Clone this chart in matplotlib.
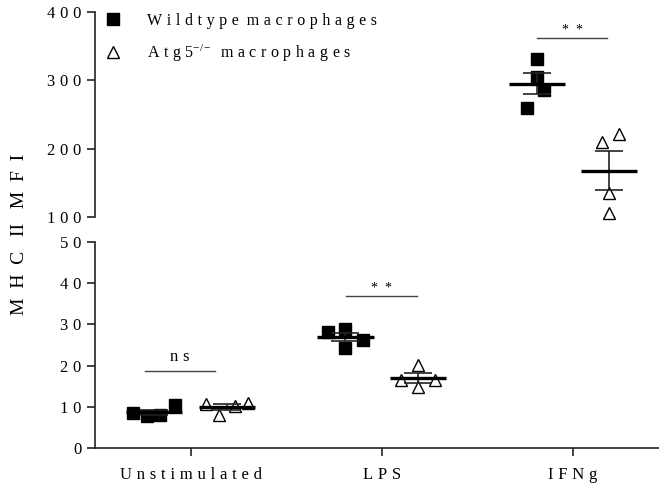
import numpy as np
import matplotlib
matplotlib.use('Agg')
import matplotlib.pyplot as plt
from matplotlib.lines import Line2D

plt.rcParams['font.family'] = ['Liberation Serif', 'DejaVu Serif']
plt.rcParams['mathtext.fontset'] = 'custom'
plt.rcParams['mathtext.rm'] = 'Liberation Serif'
plt.rcParams['mathtext.it'] = 'Liberation Serif:italic'

# MHC II MFI per stimulation, 4 replicates each
categories = ['Unstimulated', 'LPS', 'IFNg']
wt_values = [[8.5, 7.8, 8.0, 10.4],
             [28.2, 28.9, 24.3, 26.2],
             [331, 305, 286, 259]]
ko_values = [[10.6, 7.9, 10.3, 10.9],
             [16.5, 20.1, 14.8, 16.5],
             [210, 221, 135, 106]]
sig_labels = ['ns', '**', '**']
sig_y = [18.7, 36.9, 362]

# horizontal placement of the dots (scatter-dot style)
wt_jitter = [[-0.30, -0.23, -0.16, -0.08],
             [-0.28, -0.19, -0.19, -0.10],
             [-0.19, -0.19, -0.15, -0.24]]
ko_jitter = [[0.08, 0.15, 0.23, 0.30],
             [0.10, 0.19, 0.19, 0.28],
             [0.15, 0.24, 0.19, 0.19]]
group_offset = 0.19
sig_span = [(-0.24, 0.125), (-0.185, 0.185), (-0.19, 0.18)]

FS = 12
GAP = '\u2009\u200a'
BREAK = 50  # values above this go on the upper panel


def spaced(s, gap=GAP):
    return gap.join(s)


fig = plt.figure(figsize=(6.59, 4.86), dpi=100)
ax_bot = fig.add_axes([0.1442, 0.0782, 0.8558, 0.4239])
ax_top = fig.add_axes([0.1442, 0.5535, 0.8558, 0.4218])


def panel(v):
    return ax_top if v > BREAK else ax_bot


x = np.arange(len(categories))

for i in range(len(categories)):
    for vals, jit, off, marker, face in (
            (wt_values[i], wt_jitter[i], -group_offset, 's', 'black'),
            (ko_values[i], ko_jitter[i], group_offset, '^', 'white')):
        vals = np.asarray(vals, dtype=float)
        for v, j in zip(vals, jit):
            panel(v).plot(x[i] + j, v, linestyle='none', marker=marker, ms=9,
                          mfc=face, mec='black', mew=1.0, zorder=2, clip_on=False)
        mean = vals.mean()
        sem = vals.std(ddof=1) / np.sqrt(len(vals))
        cx = x[i] + off
        ax = panel(mean)
        ax.errorbar(cx, mean, yerr=sem, fmt='none', ecolor='#222222',
                    elinewidth=1.2, capsize=10, capthick=1.2, zorder=3)
        ax.hlines(mean, cx - 0.147, cx + 0.147, colors='black', lw=2.4, zorder=4)

for ax in (ax_top, ax_bot):
    ax.set_xlim(-0.5, 2.45)
    for side in ('top', 'right'):
        ax.spines[side].set_visible(False)
    for side in ('left', 'bottom'):
        ax.spines[side].set_linewidth(1.2)
        ax.spines[side].set_color('#222222')
    ax.tick_params(axis='both', length=6, width=1.2, color='#222222',
                   labelsize=FS, pad=4)

ax_top.set_ylim(100, 400)
ax_top.set_yticks([100, 200, 300, 400])
ax_top.set_yticklabels([spaced(str(t)) for t in [100, 200, 300, 400]])
ax_top.spines['bottom'].set_visible(False)
ax_top.set_xticks([])

ax_bot.set_ylim(0, 50)
ax_bot.set_yticks(range(0, 51, 10))
ax_bot.set_yticklabels([spaced(str(t)) for t in range(0, 51, 10)])
ax_bot.set_xticks(x)
ax_bot.set_xticklabels([spaced(c) for c in categories])
ax_bot.tick_params(axis='x', pad=8)

# significance brackets
for i, (lab, y) in enumerate(zip(sig_labels, sig_y)):
    ax = panel(y)
    x0, x1 = x[i] + sig_span[i][0], x[i] + sig_span[i][1]
    ax.plot([x0, x1], [y, y], color='#444444', lw=1.0)
    if lab == 'ns':
        ax.annotate(spaced(lab), ((x0 + x1) / 2, y), xytext=(0, 4),
                    textcoords='offset points', ha='center', va='bottom',
                    fontsize=FS)
    else:
        ax.annotate(spaced(lab, '\u2002'), ((x0 + x1) / 2, y), xytext=(0, 1),
                    textcoords='offset points', ha='center', va='bottom',
                    fontsize=10)

fig.text(20 / 659, 0.518,
         spaced('MHC', '\u2002') + '\u2002 II \u2002' + spaced('MFI', '\u2002'),
         rotation=90, ha='center', va='center', fontsize=14)

handles = [Line2D([], [], linestyle='none', marker='s', ms=9, mfc='black', mec='black'),
           Line2D([], [], linestyle='none', marker='^', ms=9, mfc='white', mec='black')]
labels = [spaced('Wildtype') + '  ' + spaced('macrophages'),
          spaced('Atg5') + r'$^{\mathrm{-/-}}$' + '  ' + spaced('macrophages')]
fig.legend(handles, labels, loc='upper left', bbox_to_anchor=(105 / 659, 0.974),
           frameon=False, fontsize=11.5, handlelength=1.0, handletextpad=1.6,
           labelspacing=0.85, borderpad=0, borderaxespad=0)

fig.savefig('out.png', dpi=100)
